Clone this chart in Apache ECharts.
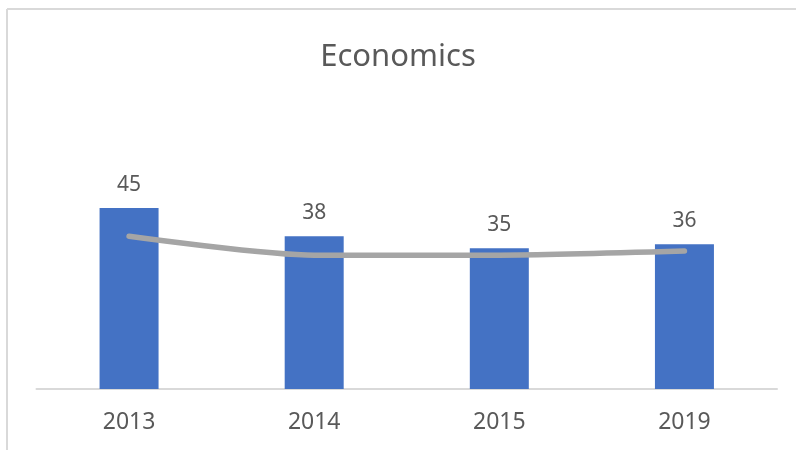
<!DOCTYPE html>
<html>
<head>
<meta charset="utf-8">
<script src="https://cdn.jsdelivr.net/npm/echarts@6/dist/echarts.min.js"></script>
<style>
    html, body { margin: 0; padding: 0; background: #fff; overflow: hidden; }
    #container { width: 796px; height: 450px; }
</style>
</head>
<body>
<div id="container"></div>
<script>
var years = ['2013', '2014', '2015', '2019'];
var barValues = [45, 38, 35, 36];
var lineValues = [38, 33.3, 33.3, 34.3];

function createChart() {
    var dom = document.getElementById("container");
    var myChart = echarts.init(dom);
    var option = {
        animation: false,
        // chart frame, only top and left edges are visible in the crop
        graphic: [
            {type: 'line', shape: {x1: 7, y1: 9, x2: 796, y2: 9}, style: {stroke: '#D9D9D9', lineWidth: 2}},
            {type: 'line', shape: {x1: 7, y1: 9, x2: 7, y2: 450}, style: {stroke: '#D9D9D9', lineWidth: 2}}
        ],
        title: {
            text: 'Economics',
            left: 'center',
            top: 37,
            textStyle: {
                fontFamily: 'Noto Sans',
                fontSize: 31,
                fontWeight: 'normal',
                color: '#595959'
            }
        },
        grid: {
            left: 36.5,
            right: 19,
            top: 188,
            bottom: 61
        },
        xAxis: [
            {
                type: 'category',
                data: years,
                axisLine: {lineStyle: {color: '#D9D9D9', width: 2}},
                axisTick: {show: false},
                axisLabel: {
                    margin: 22,
                    fontFamily: 'Noto Sans',
                    fontSize: 23,
                    color: '#595959'
                },
                splitLine: {show: false}
            }
        ],
        yAxis: [
            {
                type: 'value',
                min: 0,
                max: 50,
                show: false
            }
        ],
        series: [
            {
                name: 'Economics',
                type: 'bar',
                barWidth: 59,
                data: barValues,
                itemStyle: {color: '#4472C4'},
                label: {
                    show: true,
                    position: 'top',
                    distance: 13,
                    fontFamily: 'Noto Sans',
                    fontSize: 21,
                    color: '#595959'
                }
            },
            {
                name: 'Trend',
                type: 'line',
                data: lineValues,
                smooth: 0.25,
                symbol: 'none',
                lineStyle: {color: '#A5A5A5', width: 5.5, cap: 'round', join: 'round'},
                z: 3
            }
        ]
    };
    myChart.setOption(option, true);
}
createChart();
</script>
</body>
</html>
